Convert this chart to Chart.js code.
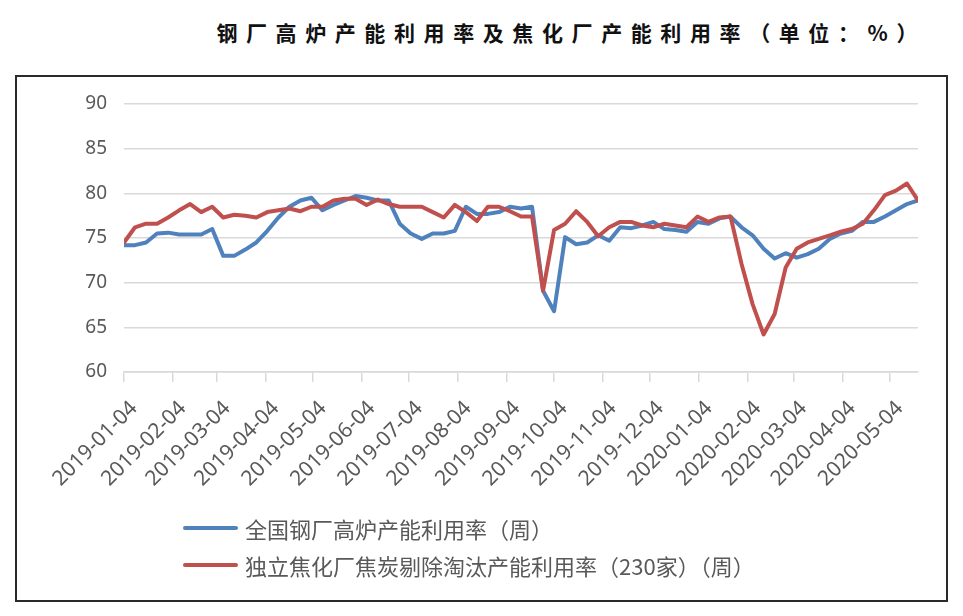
<!DOCTYPE html>
<html>
<head>
<meta charset="utf-8">
<script src="https://cdn.jsdelivr.net/npm/chart.js@4.4.1/dist/chart.umd.min.js"></script>
<style>
  html, body { margin: 0; padding: 0; background: #fff; }
  #page { position: relative; width: 963px; height: 616px; overflow: hidden; }
  #title {
    position: absolute; top: 17px; left: 0; width: 926px; text-align: right;
    font-family: "Noto Sans CJK SC", sans-serif; font-weight: 700; font-size: 21px;
    letter-spacing: 8.6px; color: #111;
  }
  #frame { position: absolute; left: 15px; top: 75px; width: 929px; height: 523px; border: 2px solid #2a2a2a; }
  #wrap { position: absolute; left: 0; top: 0; width: 963px; height: 616px; }
  #legend { position: absolute; left: 183px; top: 509px; font-family: "Noto Sans CJK SC", sans-serif; font-size: 22px; color: #595959; }
  .lg-row { display: flex; align-items: center; height: 37px; }
  .lg-line { width: 55px; height: 4px; border-radius: 2px; margin-right: 7px; }
</style>
</head>
<body>
<div id="page">
  <div id="title">钢厂高炉产能利用率及焦化厂产能利用率（单位：%）</div>
  <div id="frame"></div>
  <div id="wrap"><canvas id="chart"></canvas></div>
  <div id="legend"></div>
</div>
<script>
  // weekly series starting 2019-01-04
  const startDate = '2019-01-04';
  const seriesNames = ['全国钢厂高炉产能利用率（周）', '独立焦化厂焦炭剔除淘汰产能利用率（230家）（周）'];
  const seriesColors = ['#4F81BD', '#C0504D'];

  const steelRate = [
    74.2, 74.2, 74.5, 75.5, 75.6, 75.4, 75.4, 75.4, 76.0, 73.0,
    73.0, 73.7, 74.5, 75.8, 77.3, 78.5, 79.2, 79.5, 78.1, 78.7,
    79.2, 79.7, 79.5, 79.2, 79.2, 76.6, 75.5, 74.9, 75.5, 75.5,
    75.8, 78.5, 77.7, 77.7, 77.9, 78.5, 78.3, 78.5, 69.1, 66.8,
    75.1, 74.3, 74.5, 75.3, 74.7, 76.2, 76.1, 76.4, 76.8, 76.0,
    75.9, 75.7, 76.8, 76.6, 77.2, 77.4, 76.2, 75.3, 73.8, 72.7,
    73.3, 72.8, 73.2, 73.8, 74.9, 75.5, 75.8, 76.8, 76.8, 77.4,
    78.1, 78.8, 79.2
  ];
  const cokeRate = [
    74.5, 76.2, 76.6, 76.6, 77.3, 78.1, 78.8, 77.9, 78.5, 77.3,
    77.6, 77.5, 77.3, 77.9, 78.1, 78.3, 78.0, 78.5, 78.5, 79.2,
    79.4, 79.4, 78.7, 79.3, 78.8, 78.5, 78.5, 78.5, 77.9, 77.3,
    78.7, 77.9, 76.9, 78.5, 78.5, 78.0, 77.4, 77.4, 69.1, 75.9,
    76.6, 78.0, 76.8, 75.2, 76.2, 76.8, 76.8, 76.4, 76.2, 76.6,
    76.4, 76.2, 77.4, 76.8, 77.3, 77.4, 72.1, 67.6, 64.2, 66.5,
    71.7, 73.8, 74.5, 74.9, 75.3, 75.7, 76.0, 76.6, 78.1, 79.8,
    80.3, 81.1, 79.2
  ];
  const tickLabels = [
    '2019-01-04', '2019-02-04', '2019-03-04', '2019-04-04', '2019-05-04', '2019-06-04',
    '2019-07-04', '2019-08-04', '2019-09-04', '2019-10-04', '2019-11-04', '2019-12-04',
    '2020-01-04', '2020-02-04', '2020-03-04', '2020-04-04', '2020-05-04'
  ];
  const yTicks = { min: 60, max: 90, step: 5 };

  /* ── Helpers ── */
  const DAY = 86400000;
  function dayOffset(dateStr) { return Math.round((Date.parse(dateStr) - Date.parse(startDate)) / DAY); }
  function toPoints(arr) { return arr.map((v, i) => ({ x: i * 7, y: v })); }

  const textGray = '#595959';
  const gridGray = '#d9d9d9';

  new Chart(document.getElementById('chart'), {
    type: 'line',
    data: {
      datasets: [
        { label: seriesNames[0], data: toPoints(steelRate), borderColor: seriesColors[0], order: 1 },
        { label: seriesNames[1], data: toPoints(cokeRate), borderColor: seriesColors[1], order: 0 }
      ]
    },
    options: {
      responsive: true, maintainAspectRatio: false, animation: false,
      layout: { padding: { top: 104, right: 45, left: 0, bottom: 0 } },
      elements: {
        line: { borderWidth: 4, tension: 0, borderCapStyle: 'round', borderJoinStyle: 'round', fill: false },
        point: { radius: 0, hoverRadius: 0 }
      },
      plugins: { legend: { display: false }, tooltip: { enabled: false } },
      scales: {
        x: {
          type: 'linear', min: 0, max: (steelRate.length - 1) * 7,
          afterBuildTicks: s => { s.ticks = tickLabels.map(d => ({ value: dayOffset(d) })); },
          afterFit: s => { s.height = 244; },
          grid: { drawOnChartArea: false, drawTicks: true, tickLength: 10, color: gridGray, lineWidth: 1.5 },
          border: { color: gridGray, width: 1.5 },
          ticks: {
            autoSkip: false, minRotation: 45, maxRotation: 45, padding: 14, labelOffset: 10,
            color: textGray, font: { family: "'Noto Sans', sans-serif", size: 21 },
            callback: (v, i) => tickLabels[i]
          }
        },
        y: {
          min: yTicks.min, max: yTicks.max,
          afterFit: s => { s.width = 124; },
          grid: { drawTicks: false, color: gridGray, lineWidth: 1.5 },
          border: { display: false },
          ticks: { stepSize: yTicks.step, padding: 17, color: textGray, font: { family: "'Noto Sans', sans-serif", size: 19 } }
        }
      }
    }
  });

  /* ── Legend ── */
  const lg = document.getElementById('legend');
  seriesNames.forEach((name, i) => {
    lg.innerHTML += `<div class="lg-row"><span class="lg-line" style="background:${seriesColors[i]};"></span><span>${name}</span></div>`;
  });
</script>
</body>
</html>
